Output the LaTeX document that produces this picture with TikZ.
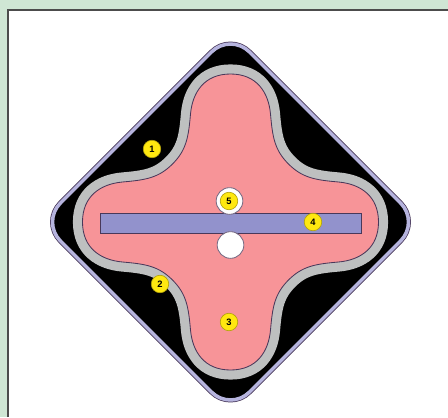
\documentclass[tikz,border=0pt]{standalone}
\usepackage{fontspec}
\setsansfont{Liberation Sans}
\usepackage{xcolor}
\definecolor{mgreen}{RGB}{207,230,212}
\definecolor{mpink}{RGB}{247,148,152}
\definecolor{mgray}{RGB}{190,192,192}
\definecolor{mviolet}{RGB}{146,146,204}
\definecolor{mrim}{RGB}{182,180,222}
\definecolor{mline}{RGB}{72,56,90}
\definecolor{myellow}{RGB}{255,232,16}
\newcommand{\lobeoutline}{
  (0,-148) .. controls (-26,-148) and (-38,-130) .. (-40,-108)
  .. controls (-42,-85) and (-44,-72) .. (-58,-58)
  .. controls (-72,-44) and (-85,-42) .. (-108,-40)
  .. controls (-130,-38) and (-148,-26) .. (-148,0)
  .. controls (-148,26) and (-130,38) .. (-108,40)
  .. controls (-85,42) and (-72,44) .. (-58,58)
  .. controls (-44,72) and (-42,85) .. (-40,108)
  .. controls (-38,130) and (-26,148) .. (0,148)
  .. controls (26,148) and (38,130) .. (40,108)
  .. controls (42,85) and (44,72) .. (58,58)
  .. controls (72,44) and (85,42) .. (108,40)
  .. controls (130,38) and (148,26) .. (148,0)
  .. controls (148,-26) and (130,-38) .. (108,-40)
  .. controls (85,-42) and (72,-44) .. (58,-58)
  .. controls (44,-72) and (42,-85) .. (40,-108)
  .. controls (38,-130) and (26,-148) .. (0,-148) -- cycle}

\begin{document}
\begin{tikzpicture}[x=0.6pt, y=-0.6pt,
  badge/.style={circle, draw=myellow!70!black, fill=myellow, line width=0.4pt, minimum size=10.5pt,
    inner sep=0pt, font=\sffamily\bfseries\fontsize{5.6}{6}\selectfont},
  ring/.style={circle, draw=mline!75, fill=white, line width=0.5pt, minimum size=16pt, inner sep=0pt},
  rim/.style={rounded corners=16pt, line join=round}]

  % Page and panel
  \useasboundingbox (0,0) rectangle (448,417);
  \fill[mgreen] (0,0) rectangle (448,417);
  \fill[white] (8,10) rectangle (448,417);
  \draw[black!70, line width=1.1pt] (8,417) -- (8,10) -- (448,10);

  \begin{scope}[shift={(230.5,222)}]
    % Diamond rim
    \draw[rim, draw=mline, line width=3pt] (0,-189) -- (189,0) -- (0,189) -- (-189,0) -- cycle;
    \draw[rim, draw=mrim, fill=black, line width=2.1pt] (0,-189) -- (189,0) -- (0,189) -- (-189,0) -- cycle;
    \path[rim, fill=black] (0,-184) -- (184,0) -- (0,184) -- (-184,0) -- cycle;

    % Four-lobed body
    \draw[mgray, line width=11.5pt, line join=round] \lobeoutline;
    \draw[draw=mline, fill=mpink, line width=0.5pt] \lobeoutline;

    % Bar and openings
    \draw[draw=mline, fill=mviolet, line width=0.5pt] (-130.5,-9) rectangle (130.5,11);
    \node[ring] (hole) at (0,23) {};
    \node[ring] (seat) at (-1,-21) {};
  \end{scope}

  % Numbers
  \node[badge] (one) at (152,149) {1};
  \node[badge] (two) at (160,284) {2};
  \node[badge] (three) at (229,322) {3};
  \node[badge] (four) at (313,222) {4};
  \node[badge] (five) at (229,201) {5};

\end{tikzpicture}
\end{document}
